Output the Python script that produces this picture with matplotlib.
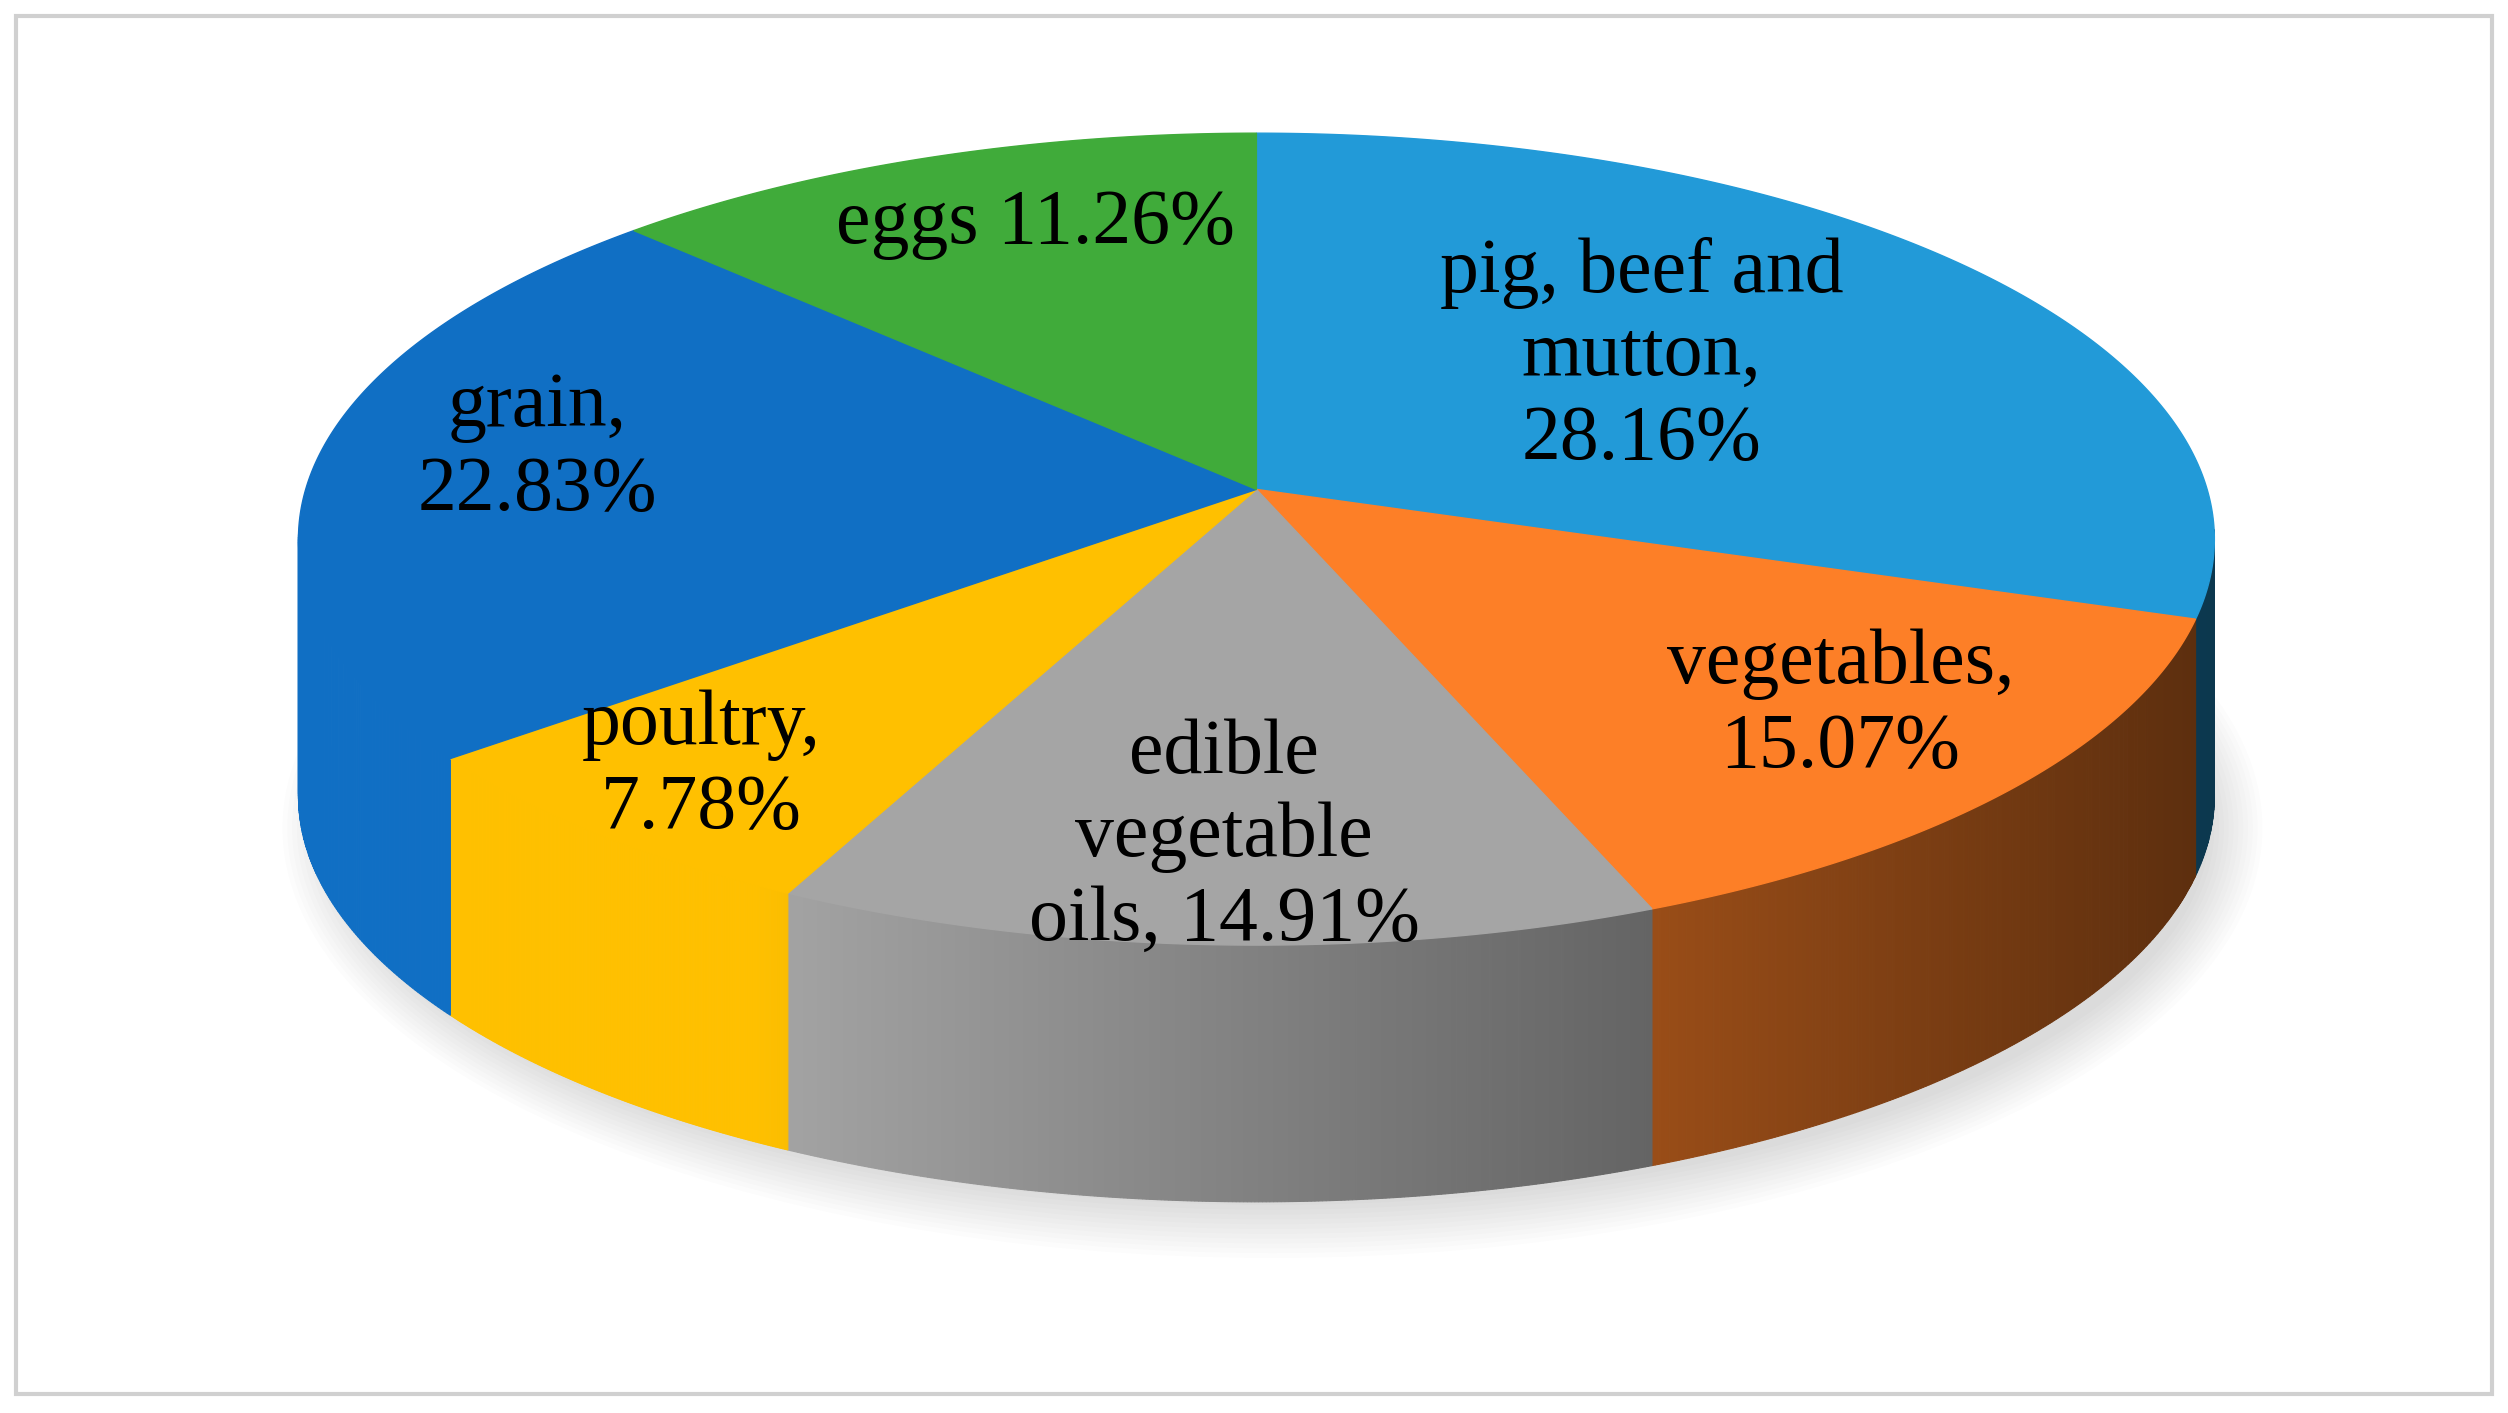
import numpy as np
import matplotlib
matplotlib.use('Agg')
import matplotlib.pyplot as plt
from matplotlib.patches import Polygon, Rectangle, Ellipse

labels = ['pig, beef and\nmutton,\n28.16%', 'vegetables,\n15.07%', 'edible\nvegetable\noils, 14.91%',
          'poultry,\n7.78%', 'grain,\n22.83%', 'eggs 11.26%']
shares = [28.16, 15.07, 14.91, 7.78, 22.83, 11.26]
colors = ['#229ad8', '#fd7f27', '#a5a5a5', '#ffc000', '#106fc4', '#40ab3a']
label_pos = [(1023, 222), (1147, 440), (763, 522), (437, 478), (335, 280), (645, 140)]

W, H = 1563, 880.6
cx, cy, rx, ry, depth = 783, 336, 597, 253, 160
apex = (783, 305)

fig = plt.figure(figsize=(25.08, 14.13), dpi=100)
ax = fig.add_axes([0, 0, 1, 1])
ax.set_xlim(0, W); ax.set_ylim(H, 0); ax.axis('off')
ax.add_patch(Rectangle((10, 10), W - 20, H - 22, fill=False, ec='#d0d0d0', lw=3))

# soft shadow
for i in range(12):
    ax.add_patch(Ellipse((cx + 10, cy + depth + 20), 2 * rx + 40 - i * 6, 2 * ry + 30 - i * 6,
                         fc='#000000', alpha=0.012, ec='none', zorder=1))

def pt(t, dy=0.0):
    return cx + rx * np.cos(t), cy - ry * np.sin(t) + dy

frac = np.array(shares) / np.sum(shares)
starts = np.pi / 2 - 2 * np.pi * np.concatenate([[0], np.cumsum(frac)[:-1]])
ends = starts - 2 * np.pi * frac

# side walls (front half only)
for a0, a1, c in zip(starts, ends, colors):
    base = np.array(matplotlib.colors.to_rgb(c))
    ts = np.linspace(a1, a0, 240)
    for t0, t1 in zip(ts[:-1], ts[1:]):
        tm = 0.5 * (t0 + t1)
        if np.sin(tm) >= 0.02:
            continue
        xn = np.cos(tm)
        f = np.clip(0.78 - 0.42 * xn, 0.32, 1.0)
        col = np.clip(base * f, 0, 1)
        x0, y0 = pt(t0); x1, y1 = pt(t1)
        ax.add_patch(Polygon([(x0, y0), (x1, y1), (x1, y1 + depth), (x0, y0 + depth)],
                             closed=True, fc=col, ec=col, lw=0.8, zorder=2))

# top face
for a0, a1, c in zip(starts, ends, colors):
    ts = np.linspace(a0, a1, 200)
    xs, ys = pt(ts)
    verts = [apex] + list(zip(xs, ys))
    ax.add_patch(Polygon(verts, closed=True, fc=c, ec=c, lw=1, zorder=4))

for lab, (x, y) in zip(labels, label_pos):
    ax.text(x, y, lab, ha='center', va='center', fontsize=56, family='Liberation Serif',
            linespacing=1.22, zorder=6)

fig.savefig('out.png', dpi=100, facecolor='white')
